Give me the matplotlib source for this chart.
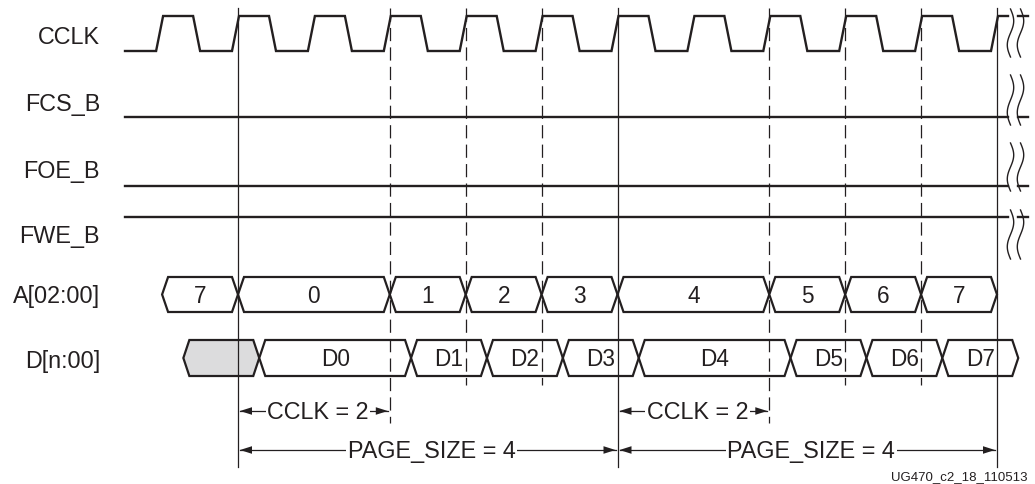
import numpy as np
import matplotlib
matplotlib.use("Agg")
import matplotlib.pyplot as plt
from matplotlib.patches import Polygon

plt.rcParams['lines.scale_dashes'] = False
FONT = ['Liberation Sans', 'DejaVu Sans']

# ---------------- data ----------------
signal_names = ["CCLK", "FCS_B", "FOE_B", "FWE_B", "A[02:00]", "D[n:00]"]
static_levels = {"FCS_B": 0, "FOE_B": 0, "FWE_B": 1}
clock_edges = list(range(-1, 11))            # rising edges (clock cycles)
a_values = ["7", "0", "1", "2", "3", "4", "5", "6", "7"]
a_edges = [-1, 0, 2, 3, 4, 5, 7, 8, 9, 10]   # cycles
d_values = ["", "D0", "D1", "D2", "D3", "D4", "D5", "D6", "D7"]
d_delay = 0.28                               # cycles after address change
solid_markers = [0, 5, 10]
dashed_markers = [2, 3, 4, 7, 8, 9]
measures = [("CCLK = 2", 0, 2, "short"), ("CCLK = 2", 5, 7, "short"),
            ("PAGE_SIZE = 4", 0, 5, "long"), ("PAGE_SIZE = 4", 5, 10, "long")]
footer = "UG470_c2_18_110513"

# ---------------- layout ----------------
W, H = 1035, 485
X0, PER = 238.0, 75.9
def tx(t):
    return X0 + t * PER

row_band = {"CCLK": (17, 52), "FCS_B": (83, 118), "FOE_B": (152, 187),
            "FWE_B": (218, 253), "A[02:00]": (278, 313), "D[n:00]": (341, 377)}
label_y = {"CCLK": 38, "FCS_B": 105, "FOE_B": 172, "FWE_B": 237,
           "A[02:00]": 297, "D[n:00]": 362}
X_START = 125
BREAK_A, BREAK_B, X_END = 1008, 1018, 1028
SIG_LW = 1.7
FS = 16.8

fig = plt.figure(figsize=(W / 100, H / 100), dpi=100)
ax = fig.add_axes([0, 0, 1, 1])
ax.set_xlim(0, W)
ax.set_ylim(H, 0)
ax.axis('off')

# labels
for name in signal_names:
    ax.text(100, label_y[name], name, ha='right', va='center', fontsize=FS,
            family=FONT, color='#231f20')

# clock
yh, yl = row_band["CCLK"]
xs, ys = [X_START], [yl]
for k in clock_edges:
    x = tx(k)
    xs += [x - 6, x + 1]
    ys += [yl, yh]
    if x + 31 < BREAK_A:
        xs += [x + 31, x + 38]
        ys += [yh, yl]
xs.append(BREAK_A)
ys.append(ys[-1])
ax.plot(xs, ys, color='#231f20', lw=SIG_LW, solid_joinstyle='miter')
ax.plot([BREAK_B, X_END], [yh, yh], color='#231f20', lw=SIG_LW)

# static signals
for name, lvl in static_levels.items():
    hi, lo = row_band[name]
    y = hi if lvl else lo
    ax.plot([X_START, BREAK_A], [y, y], color='#231f20', lw=SIG_LW)
    ax.plot([BREAK_B, X_END], [y, y], color='#231f20', lw=SIG_LW)

# break symbols
break_rows = {"CCLK": (10, 58), "FCS_B": (76, 126), "FOE_B": (144, 192), "FWE_B": (211, 260)}
for name, (y0, y1) in break_rows.items():
    s = np.linspace(0, 1, 60)
    yy = y0 + (y1 - y0) * s
    for xc in (1010.5, 1020.5):
        ax.plot(xc + 3.2 * np.sin(2 * np.pi * s), yy, color='#231f20', lw=1.0)

# buses
def draw_bus(name, edges, values, shift, first_gray=False):
    yt, yb = row_band[name]
    yc = (yt + yb) / 2
    sl = 6
    for i, v in enumerate(values):
        xa, xb = tx(edges[i] + shift), tx(edges[i + 1] + shift)
        poly = [(xa, yc), (xa + sl, yt), (xb - sl, yt), (xb, yc), (xb - sl, yb), (xa + sl, yb)]
        fc = '#dcdcdd' if (first_gray and i == 0) else 'white'
        ax.add_patch(Polygon(poly, closed=True, fc=fc, ec='#231f20', lw=1.6, joinstyle='miter', zorder=2))
        if v:
            ax.text((xa + xb) / 2, yc + 1, v, ha='center', va='center', fontsize=FS - 0.5,
                    family=FONT, color='#231f20', zorder=3)

draw_bus("A[02:00]", a_edges, a_values, 0.0)
draw_bus("D[n:00]", a_edges, d_values, d_delay, first_gray=True)

# markers
for m in solid_markers:
    ax.plot([tx(m), tx(m)], [9, 468], color='#231f20', lw=0.9, zorder=4)
short_targets = {b for _, a, b, kind in measures if kind == "short"}
for m in dashed_markers:
    yend = 424 if m in short_targets else 386
    ax.plot([tx(m), tx(m)], [9, yend], color='#231f20', lw=0.9, dashes=(9.5, 4.5), zorder=4)

# measurement arrows
def arrowhead(x, y, direction):
    L, hw = 12, 3.8
    pts = [(x, y), (x - direction * L, y - hw), (x - direction * L, y + hw)]
    ax.add_patch(Polygon(pts, closed=True, fc='#231f20', ec='none', zorder=5))

for text, a, b, kind in measures:
    y = 412 if kind == "short" else 451
    xa, xb = tx(a) + 2, tx(b) - 2
    ax.plot([xa, xb], [y, y], color='#231f20', lw=0.9, zorder=4)
    arrowhead(xa, y, -1)
    arrowhead(xb, y, 1)
    ax.text((tx(a) + tx(b)) / 2 + 4, y + 1, text, ha='center', va='center', fontsize=FS,
            family=FONT, color='#231f20', zorder=6,
            bbox=dict(fc='white', ec='none', pad=1.0))

ax.text(1028, 480, footer, ha='right', va='baseline', fontsize=9.5, family=FONT, color='#231f20')

fig.savefig("out.png", dpi=100)
